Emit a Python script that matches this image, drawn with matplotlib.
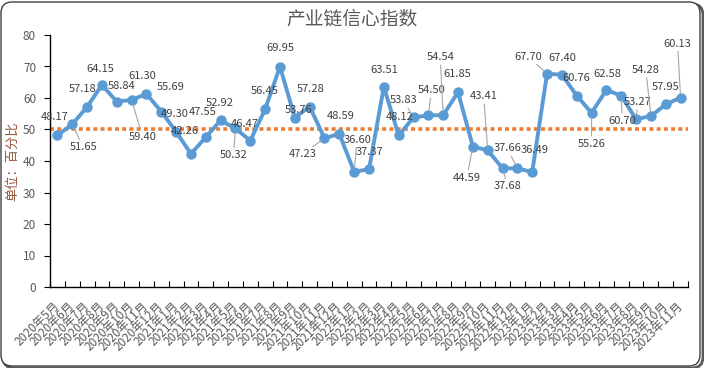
import matplotlib
matplotlib.use('Agg')
import matplotlib.pyplot as plt
import numpy as np
from matplotlib.patches import FancyBboxPatch
from matplotlib.transforms import IdentityTransform

plt.rcParams['font.family'] = ['Noto Sans CJK SC', 'DejaVu Sans']

# Данные
title = '产业链信心指数'
y_label = '单位：百分比'
months = ([f'2020年{m}月' for m in range(5, 13)] +
          [f'2021年{m}月' for m in range(1, 13)] +
          [f'2022年{m}月' for m in range(1, 13)] +
          [f'2023年{m}月' for m in range(1, 12)])
index_values = [48.17, 51.65, 57.18, 64.15, 58.84, 59.40, 61.30, 55.69, 49.30, 42.26,
                47.55, 52.92, 50.32, 46.47, 56.45, 69.95, 53.76, 57.28, 47.23, 48.59,
                36.60, 37.37, 63.51, 48.12, 53.83, 54.50, 54.54, 61.85, 44.59, 43.41,
                37.68, 37.66, 36.49, 67.70, 67.40, 60.76, 55.26, 62.58, 60.70, 53.27,
                54.28, 57.95, 60.13]
threshold = 50

# Смещения подписей (пиксели) и подписи с выносками
label_dx = [-3, 11, -5, -2, 5, 11, -4, 9, -1, -6, -3, -1, -2, -5, 0, 0, 4, 1, -22, 1,
            3, 0, 0, 1, -10, 3, -3, -1, -6, -4, 5, -10, 2, -19, 0, 0, 0, 1, 1, 2,
            -5, 0, -3]
label_dy = [18, -23, 18, 16, 16, -37, 18, 25, 18, 23, 25, 17, -27, 17, 18, 19, 8, 18, -16, 18,
            32, 17, 17, 18, 17, 25, 58, 18, -31, 54, -18, 20, 22, 17, 17, 18, -31, 16, -25, 17,
            46, 17, 54]
leaders = {1, 5, 12, 18, 20, 24, 25, 26, 28, 29, 30, 31, 33, 36, 38, 39, 40, 42}

text_color = '#595959'
fig = plt.figure(figsize=(7.04, 3.68), dpi=100)

# Рамка области диаграммы (с тенью)
shadow = FancyBboxPatch((3, 0), 700, 364, boxstyle='round,pad=0,rounding_size=11',
                        transform=IdentityTransform(), facecolor='none',
                        edgecolor='#595959', linewidth=2.0, zorder=-2)
frame = FancyBboxPatch((1, 2), 699, 364, boxstyle='round,pad=0,rounding_size=11',
                       transform=IdentityTransform(), facecolor='white',
                       edgecolor='#404040', linewidth=1.0, zorder=-1)
fig.patches.extend([shadow, frame])

ax = fig.add_axes([50 / 704, 81 / 368, 638 / 704, 252 / 368])
ax.set_facecolor('none')
x = np.arange(len(index_values))

ax.axhline(threshold, color='#ED7D31', lw=2.6, ls=(0, (1.1, 0.9)), zorder=2)
ax.plot(x, index_values, color='#5B9BD5', lw=2.8, marker='o', ms=6.5, zorder=3)

for i, v in enumerate(index_values):
    arrow = None
    if i in leaders:
        arrow = dict(arrowstyle='-', color='#A6A6A6', lw=0.8, shrinkA=0, shrinkB=3)
    ax.annotate(f'{v:.2f}', xy=(i, v), xytext=(label_dx[i], label_dy[i]),
                textcoords='offset pixels', ha='center', va='center',
                fontsize=8, color='#404040', arrowprops=arrow, zorder=4)

ax.set_xlim(-0.5, len(index_values) - 0.5)
ax.set_ylim(0, 80)
ax.set_yticks(range(0, 81, 10))
ax.set_xticks(x)
ax.set_xticklabels(months, rotation=45, ha='right', va='center', rotation_mode='anchor',
                   fontsize=8.5, color=text_color)
ax.set_xticks(np.arange(-0.5, len(index_values)), minor=True)
ax.tick_params(axis='x', which='major', length=0, pad=12)
ax.tick_params(axis='x', which='minor', direction='in', length=4, width=0.8, color='black')
ax.tick_params(axis='y', direction='out', length=4, width=0.8, color='black',
               labelsize=8.5, labelcolor=text_color, pad=6)

for side in ('top', 'right'):
    ax.spines[side].set_visible(False)
for side in ('left', 'bottom'):
    ax.spines[side].set_color('black')
    ax.spines[side].set_linewidth(1.0)

ax.set_ylabel(y_label, fontsize=9.5, color='#96573A')
ax.yaxis.set_label_coords(-31 / 638, 0.5)
fig.text(0.5, 1 - 19 / 368, title, ha='center', va='center', fontsize=13.5, color=text_color)

fig.savefig('out.png', dpi=100)
